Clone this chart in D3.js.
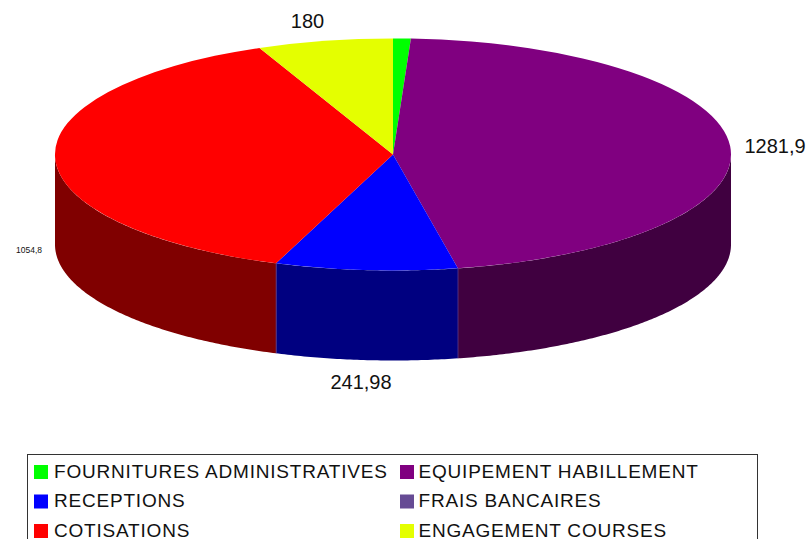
<!DOCTYPE html>
<html>
<head>
<meta charset="utf-8">
<script src="https://cdn.jsdelivr.net/npm/d3@7"></script>
<style>
html,body{margin:0;padding:0;background:#fff;overflow:hidden}
text{font-family:"Liberation Sans",Arial,sans-serif;fill:#111}
</style>
</head>
<body>
<div id="chart"></div>
<script>
//chart values, clockwise from the top
const categories=["FOURNITURES ADMINISTRATIVES","EQUIPEMENT HABILLEMENT","RECEPTIONS","FRAIS BANCAIRES","COTISATIONS","ENGAGEMENT COURSES"];
const values=[23.5,1281.9,241.98,0,1054.8,180];
const colors=["#00ff00","#800080","#0000ff","#664b94","#ff0000","#e4ff00"];
const wallColors=["#008000","#400040","#000080","#33254a","#800000","#728000"];

//labels shown on the chart
const labelTexts=["","1281,9","241,98","","1054,8","180"];
const labelSizes=[0,20,20,0,8.5,20];
const labelX=[0,775,361,0,29,307.5];
const labelY=[0,146,381.5,0,250,21];

const w=809;
const h=539;
const cx=393;
const cy=154.5;
const rx=338;
const ry=116;
const depth=90;

const svg=d3.select("#chart").append("svg").attr("width",w).attr("height",h);

//first slice starts at 12 o'clock, order kept as in the list
const slices=d3.pie().sort(null)(values);

//point on the rim for a pie angle
const rimX=(a)=>cx+rx*Math.sin(a);
const rimY=(a)=>cy-ry*Math.cos(a);

//side walls, only the part of each slice on the front half of the ellipse
const wall=svg.append("g");
slices.forEach((s,i)=>{
    const a0=Math.max(s.startAngle,Math.PI/2);
    const a1=Math.min(s.endAngle,Math.PI*1.5);
    if(a1<=a0) return;
    const steps=d3.range(a0,a1,0.01).concat([a1]);
    const p=d3.path();
    steps.forEach((a,k)=>{
        if(k==0) p.moveTo(rimX(a),rimY(a));
        else p.lineTo(rimX(a),rimY(a));
    });
    steps.slice().reverse().forEach((a)=>p.lineTo(rimX(a),rimY(a)+depth));
    p.closePath();
    wall.append("path").attr("d",p.toString()).attr("fill",wallColors[i]);
});

//thin seams between the walls
[1,2].forEach((i)=>{
    const a=slices[i].endAngle;
    wall.append("line")
        .attr("x1",rimX(a)).attr("y1",rimY(a))
        .attr("x2",rimX(a)).attr("y2",rimY(a)+depth)
        .attr("stroke","#5a3a8a").attr("stroke-width",0.8);
});

//top of the pie, unit arc squashed into the ellipse
const arc=d3.arc().innerRadius(0).outerRadius(1);
svg.append("g")
    .attr("transform","translate("+cx+","+cy+") scale("+rx+","+ry+")")
    .selectAll("path")
    .data(slices)
    .enter()
    .append("path")
    .attr("d",arc)
    .attr("fill",(d,i)=>colors[i]);

//value labels
svg.append("g")
    .selectAll("text")
    .data(labelTexts)
    .enter()
    .append("text")
    .attr("x",(d,i)=>labelX[i])
    .attr("y",(d,i)=>labelY[i])
    .attr("dy","0.35em")
    .attr("text-anchor","middle")
    .attr("font-size",(d,i)=>labelSizes[i])
    .text((d)=>d);

//legend box runs off the bottom of the picture
svg.append("rect")
    .attr("x",27.5).attr("y",454.5)
    .attr("width",730).attr("height",100)
    .attr("fill","#fff").attr("stroke","#333");

const rowY=d3.scalePoint().domain([0,1,2]).range([472,531]);
const colX=d3.scalePoint().domain([0,1]).range([34,400]);
const textX=d3.scalePoint().domain([0,1]).range([54,418.5]);
const legend=svg.append("g");
categories.forEach((c,i)=>{
    const col=i%2;
    const row=Math.floor(i/2);
    legend.append("rect")
        .attr("x",colX(col)).attr("y",rowY(row)-7)
        .attr("width",14).attr("height",14)
        .attr("fill",colors[i]);
    legend.append("text")
        .attr("x",textX(col)).attr("y",rowY(row)-1)
        .attr("dy","0.35em")
        .attr("font-size",19)
        .attr("letter-spacing","0.8px")
        .text(c);
});
</script>
</body>
</html>
